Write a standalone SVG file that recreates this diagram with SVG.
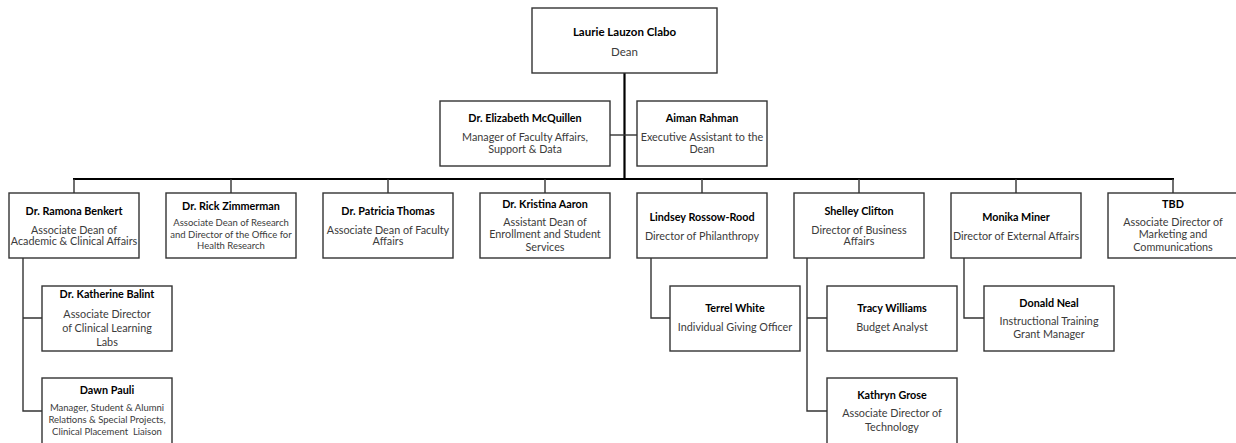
<svg xmlns="http://www.w3.org/2000/svg" width="1236" height="443" viewBox="0 0 1236 443">
<style>
.box{fill:#fff;stroke:#333;stroke-width:1.4}
.n{font-family:Lato,"Liberation Sans",sans-serif;font-weight:bold;font-size:10.8px;fill:#000;text-anchor:middle}
.t{font-family:Lato,"Liberation Sans",sans-serif;font-size:10.8px;fill:#3b3b3b;text-anchor:middle}
.s{font-size:9.5px}
.big{font-size:11.5px}
.thick{stroke:#000;stroke-width:2.2;fill:none}
.thin{stroke:#333;stroke-width:1.4;fill:none}
</style>
<rect width="1236" height="443" fill="#fff"/>
<g id="connectors">
<path class="thick" d="M624.5 73V179M73 179H1174"/>
<path class="thin" d="M610 135H637"/>
<path class="thin" d="M74 179V193M231 179V193M388 179V193M545 179V193M702 179V193M859 179V193M1016 179V193M1173 179V193"/>
<path class="thin" d="M23 258V411H42M23 318H42"/>
<path class="thin" d="M651 258V318H670"/>
<path class="thin" d="M807 258V411H827M807 318H827"/>
<path class="thin" d="M964 258V318H984"/>
</g>
<g id="dean"><rect class="box" x="532" y="8" width="185" height="65"/>
<text class="n big" x="624.5" y="36">Laurie Lauzon Clabo</text><text class="t big" x="624.5" y="56">Dean</text></g>
<g id="mcquillen"><rect class="box" x="440" y="101" width="170" height="65"/>
<text class="n" x="525" y="122">Dr. Elizabeth McQuillen</text><text class="t" x="525" y="141">Manager of Faculty Affairs,</text><text class="t" x="525" y="153">Support &amp; Data</text></g>
<g id="rahman"><rect class="box" x="637" y="101" width="130" height="65"/>
<text class="n" x="702" y="122">Aiman Rahman</text><text class="t" x="702" y="141">Executive Assistant to the</text><text class="t" x="702" y="153">Dean</text></g>
<g id="benkert"><rect class="box" x="9" y="193" width="130" height="65"/>
<text class="n" x="74" y="214.5">Dr. Ramona Benkert</text><text class="t" x="74" y="233.5">Associate Dean of</text><text class="t" x="74" y="244.5">Academic &amp; Clinical Affairs</text></g>
<g id="zimmerman"><rect class="box" x="166" y="193" width="130" height="65"/>
<text class="n" x="231" y="209.5">Dr. Rick Zimmerman</text><text class="t s" x="231" y="226">Associate Dean of Research</text><text class="t s" x="231" y="237.5">and Director of the Office for</text><text class="t s" x="231" y="249">Health Research</text></g>
<g id="thomas"><rect class="box" x="323" y="193" width="130" height="65"/>
<text class="n" x="388" y="214.5">Dr. Patricia Thomas</text><text class="t" x="388" y="233.5">Associate Dean of Faculty</text><text class="t" x="388" y="244.5">Affairs</text></g>
<g id="aaron"><rect class="box" x="480" y="193" width="130" height="65"/>
<text class="n" x="545" y="207.5">Dr. Kristina Aaron</text><text class="t" x="545" y="226">Assistant Dean of</text><text class="t" x="545" y="238">Enrollment and Student</text><text class="t" x="545" y="250.5">Services</text></g>
<g id="rossow"><rect class="box" x="637" y="193" width="130" height="65"/>
<text class="n" x="702" y="220.5">Lindsey Rossow-Rood</text><text class="t" x="702" y="239.5">Director of Philanthropy</text></g>
<g id="clifton"><rect class="box" x="794" y="193" width="130" height="65"/>
<text class="n" x="859" y="214.5">Shelley Clifton</text><text class="t" x="859" y="233.5">Director of Business</text><text class="t" x="859" y="244.5">Affairs</text></g>
<g id="miner"><rect class="box" x="951" y="193" width="130" height="65"/>
<text class="n" x="1016" y="220.5">Monika Miner</text><text class="t" x="1016" y="239.5">Director of External Affairs</text></g>
<g id="tbd"><rect class="box" x="1108" y="193" width="130" height="65"/>
<text class="n" x="1173" y="207.5">TBD</text><text class="t" x="1173" y="226">Associate Director of</text><text class="t" x="1173" y="238">Marketing and</text><text class="t" x="1173" y="250.5">Communications</text></g>
<g id="balint"><rect class="box" x="42" y="286" width="130" height="65"/>
<text class="n" x="107" y="297.5">Dr. Katherine Balint</text><text class="t" x="107" y="317.5">Associate Director</text><text class="t" x="107" y="331.5">of Clinical Learning</text><text class="t" x="107" y="345.5">Labs</text></g>
<g id="pauli"><rect class="box" x="42" y="378" width="130" height="70"/>
<text class="n" x="107" y="393.5">Dawn Pauli</text><text class="t s" x="107" y="411">Manager, Student &amp; Alumni</text><text class="t s" x="107" y="422.5">Relations &amp; Special Projects,</text><text class="t s" x="107" y="435" xml:space="preserve">Clinical Placement  Liaison</text></g>
<g id="white"><rect class="box" x="670" y="286" width="130" height="65"/>
<text class="n" x="735" y="311.5">Terrel White</text><text class="t" x="735" y="330.5">Individual Giving Officer</text></g>
<g id="williams"><rect class="box" x="827" y="286" width="130" height="65"/>
<text class="n" x="892" y="311.5">Tracy Williams</text><text class="t" x="892" y="330.5">Budget Analyst</text></g>
<g id="grose"><rect class="box" x="827" y="378" width="130" height="70"/>
<text class="n" x="892" y="398.5">Kathryn Grose</text><text class="t" x="892" y="416.5">Associate Director of</text><text class="t" x="892" y="430.5">Technology</text></g>
<g id="neal"><rect class="box" x="984" y="286" width="130" height="65"/>
<text class="n" x="1049" y="306.5">Donald Neal</text><text class="t" x="1049" y="324.5">Instructional Training</text><text class="t" x="1049" y="337.5">Grant Manager</text></g>
</svg>
